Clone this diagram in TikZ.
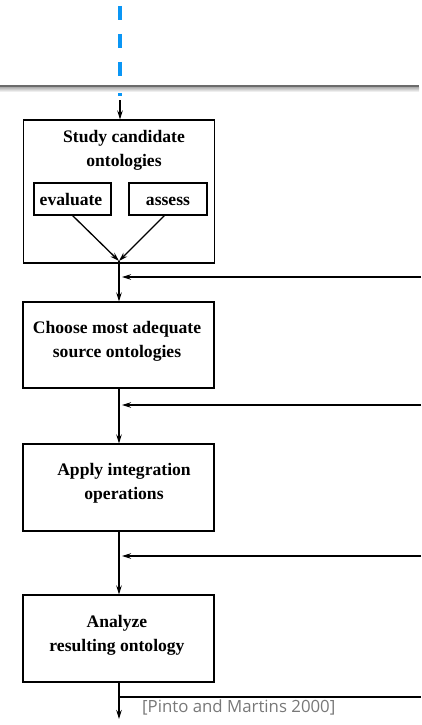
\documentclass[tikz,border=0pt]{standalone}
\usepackage{fontspec}
\setmainfont{Liberation Serif}
\newfontfamily\citefont{Open Sans}
\usetikzlibrary{arrows.meta}
\definecolor{flowblue}{RGB}{10,150,245}
\definecolor{citegray}{RGB}{120,120,120}
\tikzset{
  stagebox/.style={draw=black, line width=1.6pt, minimum width=191pt, inner sep=0pt},
  subbox/.style={draw=black, line width=1.4pt, minimum height=32pt, inner sep=0pt},
  lbl/.style={align=center, font=\bfseries\fontsize{17.6}{24}\selectfont, inner sep=0pt},
  flow/.style={line width=1.3pt, -{Stealth[length=9pt,width=5.5pt]}},
  plain/.style={line width=1.3pt}
}
\begin{document}
\begin{tikzpicture}[x=1pt, y=-1pt]
  \useasboundingbox (0,0) rectangle (421,725);

  % incoming dashed flow and separator rule
  \coordinate (in-top) at (120,6);
  \coordinate (in-bot) at (120,96);
  \draw[flowblue, line width=4pt, dash pattern=on 14pt off 14pt] (in-top) -- (in-bot);
  \fill[top color=gray!65, bottom color=white] (0,87) rectangle (419,92);
  \draw[line width=2.6pt, color=black!58] (0,85.8) -- (419,85.8);

  % stage 1 with its two sub-activities
  \node[stagebox, minimum height=143pt] (study) at (119,191.5) {};
  \node[lbl] (study-t) at (124,150) {Study candidate\\ontologies};
  \node[subbox, minimum width=77pt] (eval) at (72.5,199) {};
  \node[lbl, anchor=base] (eval-t) at (71,205) {evaluate};
  \node[subbox, minimum width=78pt] (assess) at (168,199) {};
  \node[lbl, anchor=base] (assess-t) at (168,205) {assess};
  \coordinate (merge) at (119,261);

  % stages 2-4
  \node[stagebox, minimum height=86pt] (choose) at (118.5,345) {};
  \node[lbl] (choose-t) at (117,341.5) {Choose most adequate\\source ontologies};
  \node[stagebox, minimum height=87pt] (apply) at (118.5,487.5) {};
  \node[lbl] (apply-t) at (124,483.5) {Apply integration\\operations};
  \node[stagebox, minimum height=87pt] (analyze) at (118.5,638.5) {};
  \node[lbl] (analyze-t) at (117,635.5) {Analyze\\resulting ontology};

  % main flow
  \coordinate (entry) at (120,100);
  \draw[flow] (entry) -- (120,119.5);
  \draw[flow] (72,215) -- (merge);
  \draw[flow] (165,215) -- (merge);
  \draw[flow] (merge) -- (119,301.5);
  \draw[flow] (choose.south -| 119,0) -- (119,443.5);
  \draw[flow] (apply.south -| 119,0) -- (119,594.5);
  \coordinate (out) at (119,719);
  \draw[flow] (analyze.south -| 119,0) -- (out);

  % feedback loops from the right
  \coordinate (fb1) at (421,277);
  \coordinate (fb1e) at (122,277);
  \coordinate (fb2) at (421,405);
  \coordinate (fb2e) at (122,405);
  \coordinate (fb3) at (421,556);
  \coordinate (fb3e) at (122,556);
  \draw[flow] (fb1) -- (fb1e);
  \draw[flow] (fb2) -- (fb2e);
  \draw[flow] (fb3) -- (fb3e);
  \coordinate (loop-s) at (119,697);
  \coordinate (loop-e) at (421,697);
  \draw[plain] (loop-s) -- (loop-e);

  % source
  \node[anchor=west, inner sep=0pt, text=citegray, font=\citefont\fontsize{16.8}{18}\selectfont] (cite) at (142,707) {[Pinto and Martins 2000]};
\end{tikzpicture}
\end{document}
